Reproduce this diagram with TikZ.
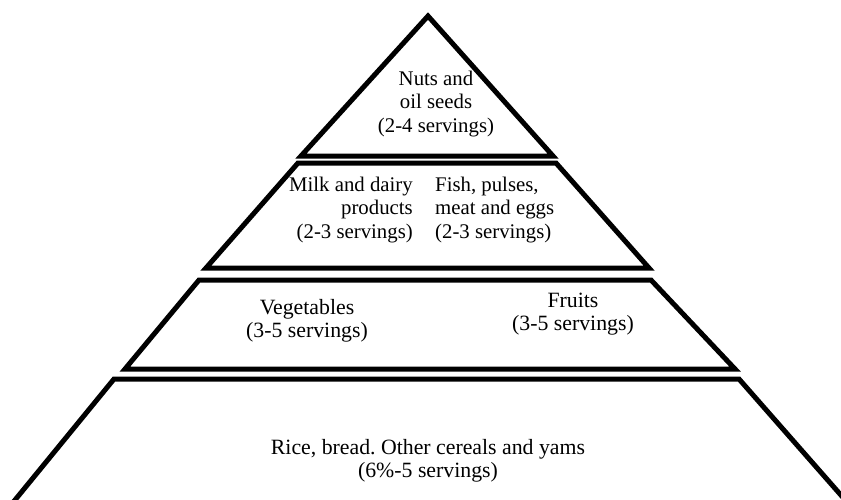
\documentclass[tikz,border=0pt]{standalone}
\usepackage{fontspec}
\setmainfont{Liberation Serif}
\frenchspacing
\begin{document}
\begin{tikzpicture}[x=1pt,y=-1pt,
  tier/.style={line width=5pt,draw=black,line join=miter},
  lbl/.style={inner sep=0pt,font=\fontsize{20.8}{23.3}\selectfont},
  lblbig/.style={inner sep=0pt,font=\fontsize{21.8}{22.5}\selectfont}]
\useasboundingbox (0,0) rectangle (841,499);
\begin{scope}
\clip (0,0) rectangle (841,499);
% top triangle
\coordinate (apex) at (428,16);
\draw[tier] (apex) -- (553,156) -- (301,156) -- cycle;
% second tier
\draw[tier] (298,163) -- (556,163) -- (649,268) -- (206,268) -- cycle;
% third tier
\draw[tier] (199,280) -- (651,280) -- (735,369) -- (125,369) -- cycle;
% bottom tier (open at the bottom)
\draw[tier] (6,511) -- (114,379) -- (739,379) -- (854,510);
\end{scope}
% labels (anchored at the baseline of the last line)
\node[lbl,align=center,anchor=base] (nuts) at (436,132) {Nuts and\\oil seeds\\(2-4 servings)};
\node[lbl,align=right,anchor=base east] (milk) at (413,238) {Milk and dairy\\products\\(2-3 servings)};
\node[lbl,align=left,anchor=base west] (fish) at (435,238) {Fish, pulses,\\meat and eggs\\(2-3 servings)};
\node[lblbig,align=center,anchor=base] (veg) at (307,337) {Vegetables\\(3-5 servings)};
\node[lblbig,align=center,anchor=base] (fruit) at (573,330) {Fruits\\(3-5 servings)};
\node[lblbig,align=center,anchor=base] (rice) at (428,477) {Rice, bread. Other cereals and yams\\(6\%-5 servings)};
\end{tikzpicture}
\end{document}
